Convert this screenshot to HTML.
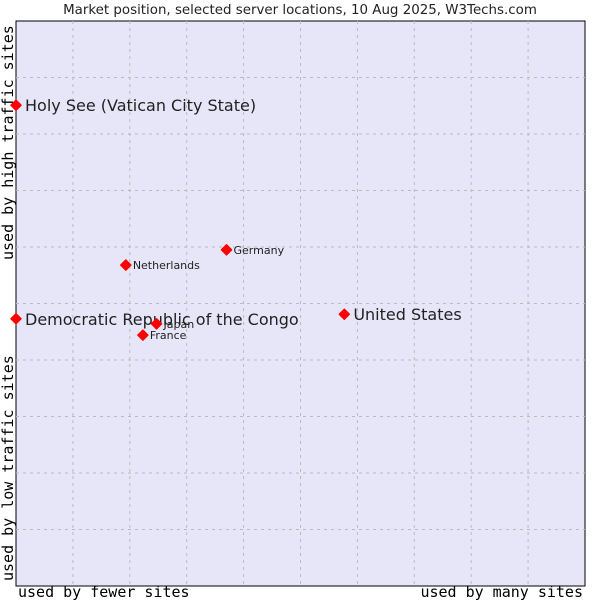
<!DOCTYPE html>
<html><head><meta charset="utf-8"><style>
body{margin:0;background:#fff;}
svg text{font-family:"DejaVu Sans","Liberation Sans",sans-serif;fill:#222;}
.mono{font-family:"DejaVu Sans Mono","Liberation Mono",monospace;font-size:15px;fill:#000;}
</style></head><body>
<svg id="c" width="600" height="600" xmlns="http://www.w3.org/2000/svg">
<text x="300" y="14" text-anchor="middle" font-size="13.4">Market position, selected server locations, 10 Aug 2025, W3Techs.com</text>
<rect x="16" y="21" width="569" height="565" fill="#e6e6f8" stroke="#000" stroke-width="1"/>
<g id="grid"></g>
<g id="pts"></g>
<text class="mono" x="18" y="597">used by fewer sites</text>
<text class="mono" x="583" y="597" text-anchor="end">used by many sites</text>
<text class="mono" transform="translate(13,581) rotate(-90)">used by low traffic sites</text>
<text class="mono" transform="translate(13,260) rotate(-90)">used by high traffic sites</text>
</svg>
<script>
const names=["Holy See (Vatican City State)","Democratic Republic of the Congo","United States","Germany","Netherlands","Japan","France"];
const xVals=[0,0,57.7,37.0,19.3,24.7,22.3];
const yVals=[85.1,47.3,48.1,59.5,56.8,46.4,44.4];
const bigLabel=[true,true,true,false,false,false,false];
const NS="http://www.w3.org/2000/svg";
const X=v=>16+v*5.69, Y=v=>586-v*5.65;
const grid=document.getElementById('grid'), pts=document.getElementById('pts');
for(let i=1;i<10;i++){
  const v=document.createElementNS(NS,'line');
  v.setAttribute('x1',X(i*10));v.setAttribute('x2',X(i*10));v.setAttribute('y1',21);v.setAttribute('y2',586);
  v.setAttribute('stroke','#bbb');v.setAttribute('stroke-dasharray','3,4');
  
  
  grid.appendChild(v);
  const h=document.createElementNS(NS,'line');
  h.setAttribute('y1',Y(i*10));h.setAttribute('y2',Y(i*10));h.setAttribute('x1',16);h.setAttribute('x2',585);
  h.setAttribute('stroke','#bbb');h.setAttribute('stroke-dasharray','3,4');
  
  
  grid.appendChild(h);
}
names.forEach((n,i)=>{
  const x=X(xVals[i]),y=Y(yVals[i]);
  const d=document.createElementNS(NS,'path');
  d.setAttribute('d',`M${x} ${y-5}L${x+5} ${y}L${x} ${y+5}L${x-5} ${y}Z`);
  d.setAttribute('fill','#f00');
  d.setAttribute('stroke','#f00');
  d.setAttribute('stroke-linejoin','round');
  d.setAttribute('stroke-width','1.5');
  
  
  pts.appendChild(d);
  const t=document.createElementNS(NS,'text');
  const big=bigLabel[i];
  t.setAttribute('x',x+(big?9:7));t.setAttribute('y',y+(big?6:4));
  t.setAttribute('font-size',big?16:11);
  t.textContent=n;
  
  
  pts.appendChild(t);
});
</script>
</body></html>
